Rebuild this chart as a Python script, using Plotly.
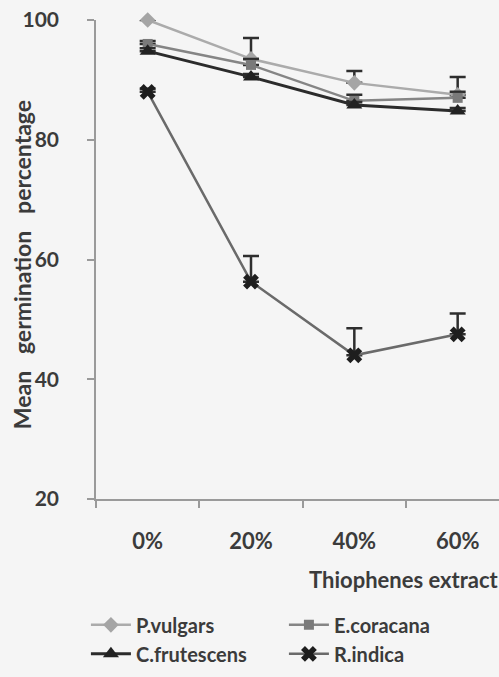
import plotly.graph_objects as go

categories = ["0%", "20%", "40%", "60%"]
series_names = ["P.vulgars", "E.coracana", "C.frutescens", "R.indica"]
p_vulgars = [100, 93.5, 89.5, 87.5]
p_vulgars_err = [0, 3.5, 2.0, 3.0]
e_coracana = [96, 92.5, 86.5, 87.0]
e_coracana_err = [0.5, 1.0, 1.0, 1.0]
c_frutescens = [94.8, 90.5, 85.8, 84.8]
c_frutescens_err = [0.5, 0.5, 0.5, 0.5]
r_indica = [88, 56.3, 44.0, 47.5]
r_indica_err = [0.5, 4.3, 4.5, 3.5]
y_ticks = [20, 40, 60, 80, 100]

FONT = "Lato"
TXT = "#3b3b3b"
BG = "#f5f5f5"

xs = list(range(len(categories)))

styles = [
    (p_vulgars, p_vulgars_err, "#ababab", "#a5a5a5", "diamond", 12, 2.5),
    (e_coracana, e_coracana_err, "#858585", "#7a7a7a", "square", 10, 2.5),
    (c_frutescens, c_frutescens_err, "#2b2b2b", "#222222", "triangle-up", 14, 3),
    (r_indica, r_indica_err, "#6a6a6a", "#1e1e1e", "x", 14, 2.5),
]

fig = go.Figure()
for name, (vals, err, lc, mc, sym, ms, lw) in zip(series_names, styles):
    fig.add_trace(go.Scatter(
        x=xs, y=vals, name=name, mode="lines+markers",
        line=dict(color=lc, width=lw),
        marker=dict(symbol=sym, size=ms, color=mc, line=dict(width=0)),
        error_y=dict(type="data", array=err, symmetric=False,
                     arrayminus=[0] * len(err), color="#2e2e2e",
                     thickness=2.5, width=8),
        cliponaxis=False,
    ))

fig.update_layout(
    width=499, height=677,
    margin=dict(l=96, r=0, t=20, b=178, autoexpand=False),
    paper_bgcolor=BG, plot_bgcolor=BG,
    font=dict(family=FONT, color=TXT, size=20, weight="bold"),
    showlegend=True,
    legend=dict(orientation="h", x=-0.025, y=-0.222, xanchor="left", yanchor="top",
                entrywidth=143, entrywidthmode="pixels", traceorder="normal",
                font=dict(size=20, family=FONT, color=TXT, weight="bold"),
                bgcolor="rgba(0,0,0,0)", itemwidth=40, tracegroupgap=0),
    annotations=[
        dict(text="Thiophenes extract", xref="paper", yref="paper",
             x=1.005, y=-0.168, xanchor="right", yanchor="middle",
             showarrow=False,
             font=dict(size=22, family=FONT, color=TXT, weight="bold")),
        dict(text="Mean\u00a0\u00a0\u00a0germination\u00a0\u00a0\u00a0percentage",
             xref="paper", yref="paper", x=-0.184, y=0.49,
             xanchor="center", yanchor="middle", textangle=-90, showarrow=False,
             font=dict(size=23, family=FONT, color=TXT, weight="bold")),
    ],
)

fig.update_xaxes(
    range=[-0.5, 3.4], tickvals=xs, ticktext=categories,
    showline=True, linecolor="#9a9a9a", linewidth=1.5,
    ticks="", showgrid=False, zeroline=False,
    tickfont=dict(size=22, family=FONT, color=TXT, weight="bold"),
    ticklabelstandoff=22,
    minor=dict(tickvals=[-0.5, 0.5, 1.5, 2.5], ticks="outside", ticklen=7,
               tickcolor="#9a9a9a", tickwidth=1.5, showgrid=False),
)
fig.update_yaxes(
    range=[20, 100], tickvals=y_ticks,
    showline=True, linecolor="#9a9a9a", linewidth=1.5,
    ticks="outside", ticklen=7, tickcolor="#9a9a9a", tickwidth=1.5,
    showgrid=False, zeroline=False,
    tickfont=dict(size=21, family=FONT, color=TXT, weight="bold"),
    ticklabelstandoff=24,
)

fig.write_html("out.html")
